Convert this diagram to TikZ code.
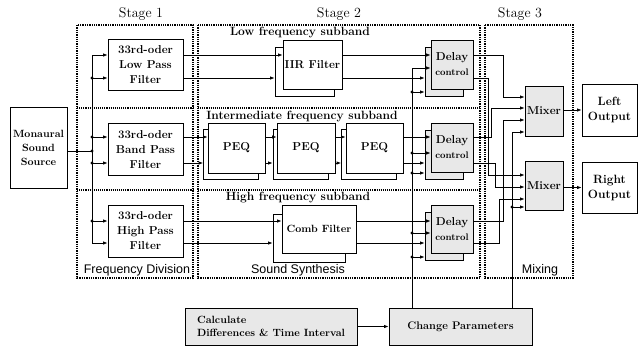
\documentclass[tikz,border=0pt]{standalone}
\usepackage{fontspec}
\newfontfamily\lsans{Liberation Sans}
\usetikzlibrary{arrows.meta}
\begin{document}
\begin{tikzpicture}[x=1pt,y=-1pt,
  box/.style={draw,line width=0.8pt,fill=white,inner sep=0pt,align=center,font=\fontsize{11.5}{15}\selectfont\bfseries},
  gbox/.style={box,fill=black!9},
  stagebox/.style={line width=1.3pt,densely dotted},
  sepline/.style={line width=1.1pt,densely dotted},
  wire/.style={line width=0.8pt},
  arr/.style={wire,-{Latex[length=4.5pt,width=3.5pt]}},
  jdot/.style={circle,fill,inner sep=0pt,minimum size=3.4pt},
  stagelbl/.style={font=\fontsize{14}{16}\selectfont},
  sublbl/.style={font=\fontsize{12}{14}\selectfont\bfseries},
  sanslbl/.style={font=\lsans\fontsize{12.5}{14}\selectfont},
]
\useasboundingbox (0,0) rectangle (643,351);

% stage frames
\draw[stagebox] (77,25) rectangle (193,278);
\draw[stagebox] (198,25) rectangle (480,278);
\draw[stagebox] (485,25) rectangle (573,278);
\draw[sepline] (77,108) -- (193,108);
\draw[sepline] (77,190) -- (193,190);
\draw[sepline] (198,108) -- (480,108);
\draw[sepline] (198,190) -- (480,190);

\node[stagelbl] (st1) at (141,14) {Stage 1};
\node[stagelbl] (st2) at (339,14) {Stage 2};
\node[stagelbl] (st3) at (520,14) {Stage 3};
\node[sublbl] (sb1) at (300,32) {Low frequency subband};
\node[sublbl] (sb2) at (302,116) {Intermediate frequency subband};
\node[sublbl] (sb3) at (298,198) {High frequency subband};
\node[sanslbl] (fd) at (137,270) {Frequency Division};
\node[sanslbl] (ss) at (298,270) {Sound Synthesis};
\node[sanslbl] (mx) at (540,270) {Mixing};

% source and filters
\node[box,minimum width=57pt,minimum height=81pt,font=\fontsize{10.5}{14}\selectfont\bfseries] (src) at (38.5,147.5) {Monaural\\Sound\\Source};
\node[box,minimum width=75pt,minimum height=51pt] (lpf) at (145.5,65) {33rd-oder\\Low Pass\\Filter};
\node[box,minimum width=75pt,minimum height=52pt] (bpf) at (145.5,149.5) {33rd-oder\\Band Pass\\Filter};
\node[box,minimum width=75pt,minimum height=52pt] (hpf) at (145.5,231) {33rd-oder\\High Pass\\Filter};

% stage 2 blocks
\node[box,minimum width=59pt,minimum height=49pt] (iirB) at (304.5,71.5) {};
\node[box,minimum width=59pt,minimum height=49pt] (iirF) at (312.5,64.5) {IIR Filter};
\node[box,minimum width=55pt,minimum height=50pt] (p1B) at (231,154) {};
\node[box,minimum width=57pt,minimum height=50pt,font=\fontsize{11.5}{14}\selectfont\bfseries] (p1F) at (236.5,148) {PEQ};
\node[box,minimum width=55pt,minimum height=50pt] (p2B) at (300.5,154) {};
\node[box,minimum width=58pt,minimum height=50pt,font=\fontsize{11.5}{14}\selectfont\bfseries] (p2F) at (306,148) {PEQ};
\node[box,minimum width=55pt,minimum height=50pt] (p3B) at (369,154) {};
\node[box,minimum width=57pt,minimum height=50pt,font=\fontsize{11.5}{14}\selectfont\bfseries] (p3F) at (374.5,148) {PEQ};
\node[box,minimum width=72pt,minimum height=48pt] (cbB) at (309,238) {};
\node[box,minimum width=74pt,minimum height=48pt,font=\fontsize{10.5}{14}\selectfont\bfseries] (cbF) at (319,229) {Comb Filter};

% delay controls
\node[gbox,minimum width=38pt,minimum height=49pt] (d1B) at (444,71.5) {};
\node[gbox,minimum width=42pt,minimum height=49pt] (d1F) at (452,64.5) {Delay\\\fontsize{9.5}{10}\selectfont control};
\node[gbox,minimum width=38pt,minimum height=49pt] (d2B) at (444,154.5) {};
\node[gbox,minimum width=42pt,minimum height=49pt] (d2F) at (452,147.5) {Delay\\\fontsize{9.5}{10}\selectfont control};
\node[gbox,minimum width=38pt,minimum height=48pt] (d3B) at (444,236) {};
\node[gbox,minimum width=42pt,minimum height=48pt] (d3F) at (452,229) {Delay\\\fontsize{9.5}{10}\selectfont control};

% mixers and outputs
\node[gbox,minimum width=38pt,minimum height=50pt,font=\fontsize{11.5}{14}\selectfont\bfseries] (m1) at (544,111) {Mixer};
\node[gbox,minimum width=38pt,minimum height=49pt,font=\fontsize{11.5}{14}\selectfont\bfseries] (m2) at (544,186) {Mixer};
\node[box,minimum width=55pt,minimum height=52pt,font=\fontsize{12}{15}\selectfont\bfseries] (lout) at (609.5,110) {Left\\Output};
\node[box,minimum width=55pt,minimum height=51pt,font=\fontsize{12}{15}\selectfont\bfseries] (rout) at (609.5,187.5) {Right\\Output};

% bottom boxes
\node[gbox,minimum width=172pt,minimum height=37pt,align=left,font=\fontsize{10.5}{13.5}\selectfont\bfseries] (calc) at (271,326.5) {Calculate\\Differences \& Time Interval};
\node[gbox,minimum width=143pt,minimum height=37pt,font=\fontsize{11}{14}\selectfont\bfseries] (cp) at (460.5,326.5) {Change Parameters};

% input bus
\coordinate (ra1) at (92,55);
\coordinate (ra2) at (92,78);
\coordinate (rb1) at (92,137);
\coordinate (rb2) at (92,163);
\coordinate (rc1) at (92,221);
\coordinate (rc2) at (92,243);
\coordinate (sj) at (92,151);
\draw[wire] (src.east |- sj) -- (sj);
\draw[wire] (ra1) -- (rc2);
\foreach \p in {ra2,rb1,sj,rb2,rc1} \node[jdot] at (\p) {};
\draw[arr] (ra1) -- (ra1 -| lpf.west);
\draw[arr] (ra2) -- (ra2 -| lpf.west);
\draw[arr] (rb1) -- (rb1 -| bpf.west);
\draw[arr] (rb2) -- (rb2 -| bpf.west);
\draw[arr] (rc1) -- (rc1 -| hpf.west);
\draw[arr] (rc2) -- (rc2 -| hpf.west);

% low band
\draw[arr] (ra1 -| lpf.east) -- (ra1 -| iirF.west);
\draw[arr] (ra2 -| lpf.east) -- (ra2 -| iirB.west);
\draw[arr] (ra1 -| iirF.east) -- (ra1 -| d1F.west);
\draw[arr] (ra2 -| iirF.east) -- (ra2 -| d1B.west);
% intermediate band
\draw[arr] (rb1 -| bpf.east) -- (rb1 -| p1F.west);
\draw[arr] (rb2 -| bpf.east) -- (rb2 -| p1B.west);
\draw[arr] (rb1 -| p1F.east) -- (rb1 -| p2F.west);
\draw[arr] (rb2 -| p1F.east) -- (rb2 -| p2B.west);
\draw[arr] (rb1 -| p2F.east) -- (rb1 -| p3F.west);
\draw[arr] (rb2 -| p2F.east) -- (rb2 -| p3B.west);
\draw[arr] (rb1 -| p3F.east) -- (rb1 -| d2F.west);
\draw[arr] (rb2 -| p3F.east) -- (rb2 -| d2B.west);
% high band
\draw[arr] (rc1 -| hpf.east) -- (rc1 -| cbF.west);
\draw[arr] (rc2 -| hpf.east) -- (rc2 -| cbB.west);
\draw[arr] (rc1 -| cbF.east) -- (rc1 -| d3F.west);
\draw[arr] (rc2 -| cbF.east) -- (rc2 -| d3B.west);

% control bus to delays
\coordinate (k1) at (412,68);
\coordinate (k2) at (412,92);
\coordinate (k3) at (412,153);
\coordinate (k4) at (412,173);
\coordinate (k5) at (412,233);
\coordinate (k6) at (412,257);
\draw[wire] (k1) -- (k1 |- cp.north);
\foreach \p in {k2,k3,k4,k5,k6} \node[jdot] at (\p) {};
\draw[arr] (k1) -- (k1 -| d1F.west);
\draw[arr] (k2) -- (k2 -| d1B.west);
\draw[arr] (k3) -- (k3 -| d2F.west);
\draw[arr] (k4) -- (k4 -| d2B.west);
\draw[arr] (k5) -- (k5 -| d3F.west);
\draw[arr] (k6) -- (k6 -| d3B.west);

% delays to mixers
\draw[arr] (ra1 -| d1F.east) -- (503,55) -- (503,97) -- (503,97 -| m1.west);
\draw[arr] (rb1 -| d2F.east) -- (491,137) -- (491,108) -- (491,108 -| m1.west);
\draw[arr] (rc1 -| d3F.east) -- (503,221) -- (503,120) -- (503,120 -| m1.west);
\draw[arr] (ra2 -| d1F.east) -- (488,78) -- (488,175) -- (488,175 -| m2.west);
\draw[arr] (rb2 -| d2F.east) -- (495,163) -- (495,187) -- (495,187 -| m2.west);
\draw[arr] (rc2 -| d3F.east) -- (499,243) -- (499,199) -- (499,199 -| m2.west);

% control bus to mixers
\coordinate (q1) at (512,132);
\coordinate (q2) at (512,207);
\draw[wire] (q1) -- (q1 |- cp.north);
\node[jdot] at (q2) {};
\draw[arr] (q1) -- (q1 -| m1.west);
\draw[arr] (q2) -- (q2 -| m2.west);

% outputs
\draw[arr] (lout.west -| m1.east) -- (lout.west);
\draw[arr] (rout.west -| m2.east) -- (rout.west);
\draw[arr] (calc.east) -- (cp.west);
\end{tikzpicture}
\end{document}
